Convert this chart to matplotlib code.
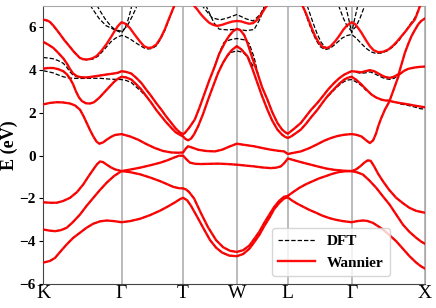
import numpy as np
import matplotlib
matplotlib.use("Agg")
import matplotlib.pyplot as plt

# high-symmetry points along the path (path coordinate, arbitrary units)
kpath_labels = ["K", "Γ", "T", "W", "L", "Γ", "X"]
kpath_pos = [43, 121.5, 183, 236.7, 287.7, 351.5, 424.8]

# Wannier-interpolated bands, (k, E in eV)
wan_b1 = [(43.3, -5.0), (50, -4.92), (55, -4.78), (61, -4.45), (66.7, -4.15), (73, -3.85), (80, -3.6),
          (86.5, -3.37), (93.3, -3.18), (100, -3.07), (106.7, -3.03), (114, -3.06), (121.5, -3.11),
          (130, -3.06), (140, -2.95), (150, -2.78), (160, -2.57), (168, -2.37), (175, -2.18), (180, -2.03),
          (183, -1.97), (187, -2.08), (191, -2.35), (197, -2.85), (204, -3.45), (210, -3.95), (216, -4.3),
          (222, -4.53), (229, -4.67), (236.7, -4.70), (243, -4.6), (249.3, -4.35), (254, -4.05),
          (259.3, -3.7), (264, -3.3), (269.3, -2.9), (274, -2.5), (279.3, -2.2), (284, -2.0), (287.7, -1.95),
          (292, -2.1), (297, -2.24), (302.7, -2.38), (309, -2.53), (316, -2.67), (322, -2.8), (329.3, -2.92),
          (336, -3.0), (342.7, -3.06), (351.5, -3.11), (357, -3.06), (362.7, -3.03), (367, -3.05),
          (372.7, -3.14), (378, -3.3), (382.7, -3.45), (389, -3.7), (396, -4.0), (402.7, -4.35),
          (409.3, -4.70), (416, -5.0), (421, -5.18), (424.8, -5.28)]
wan_b2 = [(43.3, -3.45), (49, -3.5), (55, -3.53), (61, -3.48), (66.7, -3.37), (73, -3.1), (80, -2.75),
          (86.5, -2.35), (93.3, -1.97), (100, -1.6), (106.7, -1.26), (114, -0.95), (121.5, -0.72),
          (130, -0.77), (140, -0.87), (150, -1.02), (160, -1.19), (167, -1.33), (173.3, -1.46), (179, -1.52),
          (183, -1.53), (186, -1.58), (189, -1.7), (194, -2.0), (201, -2.7), (208, -3.35), (216, -3.95),
          (223, -4.28), (230, -4.45), (236.7, -4.50), (243, -4.42), (249.3, -4.2), (254, -3.9),
          (259.3, -3.55), (264, -3.15), (269.3, -2.75), (274, -2.4), (279.3, -2.1), (284, -1.92),
          (287.7, -1.88), (293, -1.7), (299.3, -1.5), (306, -1.33), (312.7, -1.19), (319, -1.06),
          (326, -0.95), (332, -0.85), (339.3, -0.76), (345, -0.73), (351.5, -0.72), (357, -0.78),
          (362.7, -0.88), (369, -1.15), (376, -1.5), (382.7, -1.9), (389.3, -2.28), (396, -2.75),
          (402.7, -3.22), (409, -3.55), (416, -3.84), (421, -4.02), (424.8, -4.12)]
wan_b3 = [(43.3, -2.18), (50, -2.2), (56.7, -2.2), (63, -2.12), (70, -1.97), (77, -1.7), (83.3, -1.34),
          (88, -1.0), (93.3, -0.64), (97, -0.4), (100, -0.27), (103, -0.3), (106.7, -0.42), (111, -0.55),
          (115, -0.64), (121.5, -0.72), (130, -0.65), (140, -0.56), (150, -0.45), (160, -0.33),
          (167, -0.22), (173.3, -0.1), (179, 0.0), (183, 0.0), (186, -0.15), (189.7, -0.32), (195, -0.38),
          (201, -0.39), (210, -0.38), (218, -0.37), (227, -0.39), (236.7, -0.42), (245, -0.46),
          (254, -0.5), (262, -0.55), (270.7, -0.58), (276, -0.56), (280.7, -0.5), (284.5, -0.33),
          (287.7, -0.13), (293, -0.2), (300.7, -0.3), (309, -0.4), (317.3, -0.5), (326, -0.6),
          (334, -0.66), (343, -0.7), (351.5, -0.72), (356, -0.64), (360, -0.5), (364, -0.33),
          (367.5, -0.22), (370.5, -0.24), (374, -0.5), (378, -0.85), (382.7, -1.19), (389, -1.6),
          (396, -1.97), (402.7, -2.22), (409.3, -2.44), (416, -2.58), (424.8, -2.67)]
wan_b4 = [(43.3, 2.40), (50, 2.47), (56.7, 2.5), (63, 2.49), (70, 2.44), (75, 2.35), (80, 2.15),
          (83.5, 1.85), (86.7, 1.53), (90, 1.2), (93.3, 0.9), (96.5, 0.66), (99.3, 0.56), (103, 0.62),
          (106.7, 0.75), (111, 0.88), (115, 0.97), (121.5, 1.01), (130, 0.9), (138, 0.75), (146, 0.55),
          (154.7, 0.36), (163, 0.22), (171.3, 0.15), (178, 0.14), (183, 0.15), (185.5, 0.32), (188, 0.44),
          (192, 0.38), (198, 0.28), (206, 0.22), (214.7, 0.2), (222, 0.28), (229, 0.42), (236.7, 0.56),
          (245, 0.5), (254, 0.44), (262, 0.36), (270.7, 0.28), (278, 0.23), (284, 0.2), (287.7, 0.08),
          (293, 0.13), (300.7, 0.2), (309, 0.35), (317, 0.53), (324, 0.7), (331, 0.83), (337.3, 0.92),
          (344, 0.98), (351.5, 1.01), (356, 0.98), (361.3, 0.9), (366, 0.72), (369.7, 0.59), (373, 0.72),
          (376, 1.05), (378, 1.37), (381, 1.75), (384.7, 2.15), (389.5, 2.56), (395, 2.5), (401.3, 2.45),
          (408, 2.4), (414.7, 2.34), (420, 2.3), (424.8, 2.26)]
wan_b5 = [(43.3, 4.07), (48, 4.1), (53.3, 4.1), (58, 4.05), (63.3, 3.95), (67, 3.8), (70, 3.6), (73, 3.35),
          (76, 3.0), (79, 2.72), (82, 2.55), (86, 2.45), (90, 2.44), (94, 2.5), (99, 2.7), (104, 2.95),
          (109, 3.2), (114, 3.45), (118, 3.6), (121.5, 3.69), (126, 3.66), (131.3, 3.56), (136, 3.35),
          (141.3, 3.09), (146, 2.8), (151.3, 2.47), (156, 2.15), (161.3, 1.84), (166, 1.57), (171.3, 1.30),
          (175.5, 1.1), (179.7, 0.98), (183, 0.9), (185.5, 0.78), (188, 0.72), (191, 0.8), (194, 1.0),
          (198, 1.37), (203, 1.95), (208, 2.62), (213, 3.25), (218, 3.87), (223, 4.35), (228, 4.73),
          (232, 4.95), (236.7, 5.12), (241, 4.98), (247.3, 4.65), (252, 4.1), (257.3, 3.4), (262, 2.78),
          (267.3, 2.15), (272, 1.65), (277.3, 1.22), (282, 0.98), (285, 0.88), (287.7, 0.83), (291, 0.9),
          (295, 1.03), (300.7, 1.22), (306, 1.5), (311, 1.8), (317.3, 2.15), (323, 2.52), (328, 2.82),
          (334, 3.12), (339, 3.36), (344, 3.56), (348, 3.65), (351.5, 3.69), (356, 3.55), (361.3, 3.33),
          (366, 3.1), (371.3, 2.86), (376, 2.72), (381.3, 2.62), (385.5, 2.58), (389.5, 2.58), (392, 2.9),
          (394.7, 3.25), (397, 3.55), (399, 3.8), (404, 3.97), (408, 4.06), (414, 4.12), (419, 4.15),
          (424.8, 4.17)]
wan_b6 = [(43.3, 5.32), (48, 5.2), (53.3, 5.04), (58, 4.82), (63.3, 4.55), (67, 4.3), (70, 4.05), (73, 3.85),
          (76.7, 3.72), (81, 3.67), (86.7, 3.66), (93, 3.7), (100, 3.75), (107, 3.8), (113.3, 3.84),
          (118, 3.88), (121.5, 3.95), (126, 3.92), (131.3, 3.84), (136, 3.65), (141.3, 3.4), (146, 3.1),
          (151.3, 2.78), (156, 2.47), (161.3, 2.15), (166, 1.84), (171.3, 1.53), (175.5, 1.28),
          (179.7, 1.09), (183, 1.01), (184.7, 1.06), (189, 1.3), (194.7, 1.69), (199, 2.2), (204.7, 2.94),
          (209, 3.5), (214.7, 4.18), (219, 4.75), (224.7, 5.28), (229, 5.6), (233, 5.82), (236.7, 5.93),
          (240, 5.88), (244, 5.65), (247.3, 5.28), (252, 4.6), (257.3, 3.87), (262, 3.2), (267.3, 2.62),
          (272, 2.05), (277.3, 1.53), (282, 1.22), (285, 1.1), (287.7, 1.03), (291, 1.15), (295, 1.3),
          (300.7, 1.53), (306, 1.85), (311, 2.15), (317.3, 2.47), (323, 2.8), (328, 3.1), (334, 3.4),
          (339, 3.62), (344, 3.79), (348, 3.88), (351.5, 3.95), (356, 3.93), (361.3, 3.9), (365, 3.95),
          (369.7, 4.0), (374, 3.95), (378, 3.85), (381.3, 3.76), (385, 3.68), (389.5, 3.64), (393, 3.68),
          (396, 3.75), (398.5, 3.82), (401.5, 4.3), (404.7, 4.81), (408, 5.22), (411.3, 5.59),
          (414.7, 5.88), (418, 6.14), (421, 6.3), (424.8, 6.42)]
wan_b7 = [(43.3, 6.36), (47, 6.33), (50, 6.25), (54, 6.05), (59.7, 5.7), (64, 5.42), (69.7, 5.1), (74, 4.85),
          (79.7, 4.58), (83, 4.51), (86.5, 4.5), (90, 4.52), (93, 4.57), (96.5, 4.66), (101, 4.88),
          (106.5, 5.22), (111, 5.55), (115, 5.86), (118, 6.07), (121.5, 6.24), (125, 6.18), (129.7, 5.98),
          (134, 5.7), (139.7, 5.35), (144, 5.12), (148, 5.04), (152, 5.06), (156.3, 5.2), (160.5, 5.5),
          (164.7, 5.9), (168, 6.3), (171.3, 6.68), (174.7, 7.07), (178, 7.5), (183, 7.8), (190, 7.4),
          (193.3, 7.05), (197, 6.85), (201, 6.6), (205, 6.4), (209, 6.22), (213, 6.12), (217, 6.07),
          (222, 6.12), (227, 6.2), (232, 6.27), (236.7, 6.3), (241, 6.28), (245, 6.22), (249, 6.17),
          (253, 6.2), (257, 6.35), (261, 6.6), (265, 6.9), (268, 7.1), (272, 7.4), (287.7, 7.8),
          (298, 7.3), (301.7, 7.07), (305, 6.75), (308.3, 6.37), (311.5, 5.98), (315, 5.59), (318.5, 5.3),
          (321.7, 5.12), (324.5, 5.05), (327, 5.04), (330, 5.1), (335, 5.35), (339, 5.6), (343.3, 5.9),
          (347, 6.1), (351.5, 6.24), (355, 6.15), (358, 5.97), (361.3, 5.75), (365.5, 5.42), (369.7, 5.12),
          (373.5, 4.93), (378, 4.84), (383, 4.86), (388, 4.96), (393, 5.15), (397, 5.35), (401.3, 5.59),
          (406, 5.85), (410, 6.1), (414.7, 6.37), (417.5, 6.7), (419.7, 6.99), (422, 7.3), (424.8, 7.6)]

# DFT bands where they separate from the Wannier ones (the rest lies under the red lines)
dft_k_low = [(43.3, 3.97), (48, 3.93), (53.3, 3.87), (58, 3.78), (63.3, 3.69), (68, 3.64), (73.3, 3.62),
             (80, 3.61), (90, 3.62), (100, 3.62), (110, 3.58), (116, 3.57), (121.5, 3.56), (126, 3.52),
             (131.3, 3.42), (136, 3.22), (141.3, 3.0), (146, 2.77)]
dft_k_mid = [(43.3, 4.59), (48, 4.57), (53.3, 4.53), (58, 4.45), (63.3, 4.32), (67, 4.12), (70, 3.92),
             (73, 3.77), (76.7, 3.7), (81, 3.66)]
dft_g1_a = [(43.3, 6.36), (50, 6.25), (59.7, 5.7), (69.7, 5.1), (79.7, 4.57), (86.5, 4.48), (93, 4.52),
            (98, 4.65), (102, 4.85), (106.7, 5.1), (111, 5.33), (115, 5.48), (118, 5.56), (121.5, 5.62),
            (125, 5.58), (129.7, 5.47), (134, 5.33), (139.7, 5.16), (144, 5.04), (148, 4.99), (152, 5.01),
            (156.3, 5.14), (160.5, 5.45), (164.7, 5.85), (168, 6.25), (171.3, 6.65), (174.7, 7.05),
            (177, 7.3)]
dft_g1_b = [(87, 7.3), (92, 6.9), (99, 6.42), (106, 6.08), (114, 5.9), (121.5, 5.82), (127, 6.05),
            (132, 6.5), (136, 6.9), (138.5, 7.3)]
dft_g1_c = [(94, 7.3), (99, 6.85), (105, 6.4), (111, 6.05), (116, 5.86), (121.5, 5.75), (125, 5.95),
            (128, 6.35), (131, 6.85), (132.5, 7.3)]
dft_w_a = [(220, 4.1), (226, 4.6), (231, 4.83), (236.7, 4.9), (243, 4.83), (248, 4.6), (254, 4.1)]
dft_w_b = [(214, 4.1), (220, 4.9), (224, 5.3), (230, 5.42), (236.7, 5.48), (244, 5.42), (249, 5.25),
           (254, 4.6), (258, 3.8)]
dft_w_c = [(203, 7.3), (209, 6.7), (214, 6.2), (219, 5.92), (228, 5.88), (236.7, 5.92), (246, 5.85),
           (254, 5.9), (260, 6.4), (266, 7.2)]
dft_w_d = [(198, 7.3), (204, 6.9), (212, 6.45), (220, 6.35), (228, 6.45), (236.7, 6.6), (246, 6.4),
           (253, 6.3), (260, 6.6), (268, 7.3)]
dft_g2_a = [(300, 7.3), (304, 6.85), (308, 6.3), (312, 5.8), (316, 5.4), (320, 5.1), (325, 4.96),
            (330, 5.02), (336, 5.25), (342, 5.5), (347, 5.62), (351.5, 5.67), (356, 5.5), (361, 5.25),
            (366, 5.02), (371, 4.85), (376, 4.78), (381, 4.8), (387, 4.9), (393, 5.1), (399, 5.4),
            (405, 5.8), (410, 6.15), (414.7, 6.45), (418, 6.8), (420.5, 7.1), (422, 7.3)]
dft_g2_b = [(305, 7.3), (309, 6.75), (313, 6.2), (317, 5.7), (321, 5.3), (325.5, 5.05)]
dft_g2_c = [(336, 7.3), (339, 6.95), (343, 6.45), (347, 6.05), (351.5, 5.82), (356, 6.05), (360, 6.45),
            (364, 6.95), (366, 7.3)]
dft_g2_d = [(344, 7.3), (346, 6.9), (348.5, 6.4), (351.5, 5.75), (354.5, 6.4), (357, 6.9), (359, 7.3)]
dft_g2_low = [(328, 2.78), (334, 3.08), (339, 3.3), (344, 3.47), (348, 3.54), (351.5, 3.56), (356, 3.45),
              (361.3, 3.28), (366, 3.05)]
dft_x_mid = [(356, 3.9), (361, 3.85), (366, 3.88), (370, 3.92), (375, 3.82), (380, 3.7), (385, 3.6),
             (389.5, 3.57), (394, 3.62), (398, 3.75)]
dft_x_low = [(400, 2.42), (408, 2.35), (415, 2.27), (420, 2.2), (424.8, 2.17)]

wannier_bands = [wan_b1, wan_b2, wan_b3, wan_b4, wan_b5, wan_b6, wan_b7]
dft_bands = [wan_b1, wan_b2, wan_b3, wan_b4, wan_b5, wan_b6,
             dft_k_low, dft_k_mid, dft_g1_a, dft_g1_b, dft_g1_c, dft_w_a, dft_w_b, dft_w_c, dft_w_d,
             dft_g2_a, dft_g2_b, dft_g2_c, dft_g2_d, dft_g2_low, dft_x_mid, dft_x_low]

y_ticks = [-6, -4, -2, 0, 2, 4, 6]

plt.rcParams["font.family"] = ["Liberation Serif", "DejaVu Serif"]

fig = plt.figure(figsize=(4.36, 3.08), dpi=100)
ax = fig.add_axes([43 / 436, 24 / 308, 382 / 436, 278 / 308])

for x in kpath_pos:
    ax.axvline(x, color="#a8a8a8", lw=1.1, zorder=1)

for i, band in enumerate(dft_bands):
    k, e = np.array(band).T
    ax.plot(k, e, color="black", ls="--", lw=0.9, dashes=(3.5, 1.6), zorder=2,
            label="DFT" if i == 0 else None)

for i, band in enumerate(wannier_bands):
    k, e = np.array(band).T
    ax.plot(k, e, color="red", lw=1.7, alpha=0.95, zorder=3,
            label="Wannier" if i == 0 else None)

ax.set_xlim(kpath_pos[0], kpath_pos[-1])
ax.set_ylim(-6, 7)
ax.set_xticks(kpath_pos)
ax.set_xticklabels(kpath_labels, fontsize=14)
ax.tick_params(axis="x", length=0, pad=1)
ax.set_yticks(y_ticks)
ax.set_yticklabels([str(v).replace("-", "\u2212") for v in y_ticks], fontsize=11, fontweight="bold")
ax.tick_params(axis="y", length=3, pad=2)
ax.set_ylabel("E (eV)", fontsize=13, fontweight="bold", labelpad=1)

for side in ["top", "right"]:
    ax.spines[side].set_color("#a8a8a8")
for side in ["left", "bottom"]:
    ax.spines[side].set_color("#444444")

leg = ax.legend(loc="lower left", bbox_to_anchor=(0.6, 0.03), borderaxespad=0,
                prop={"weight": "bold", "size": 11}, handlelength=2.4, frameon=True)
leg.get_frame().set_edgecolor("#cccccc")

fig.savefig("out.png", dpi=100)
